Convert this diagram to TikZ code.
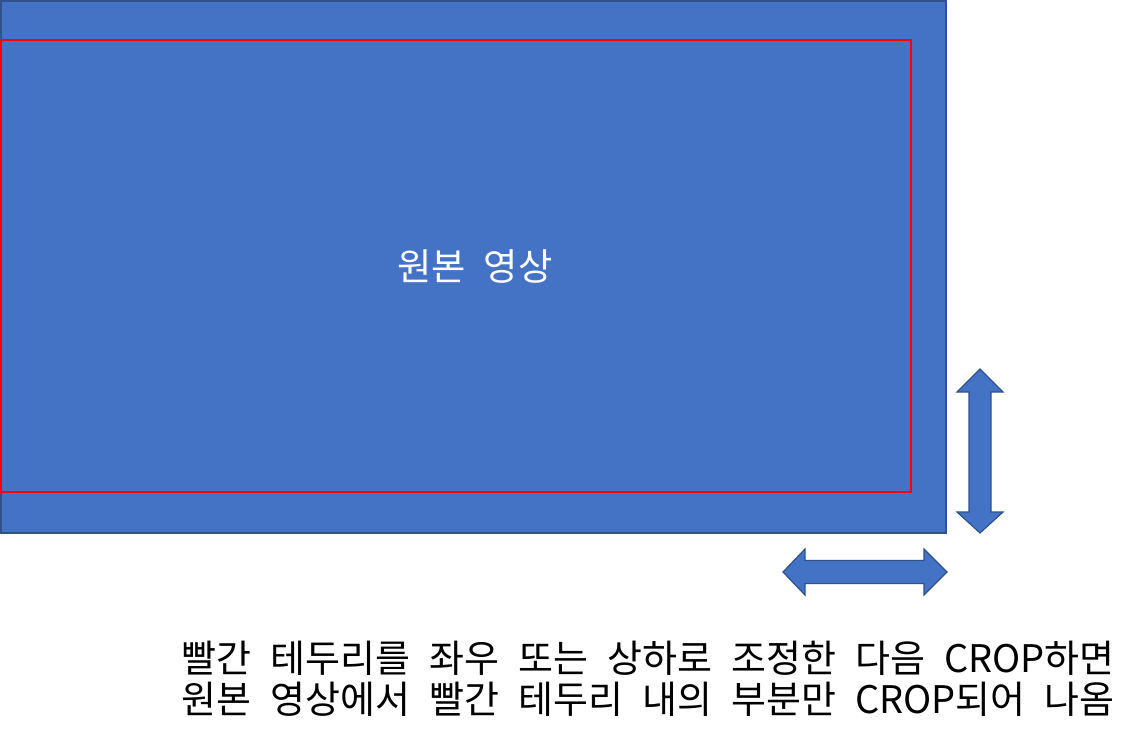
\documentclass[tikz,border=0pt]{standalone}
\usepackage{fontspec}
\newfontfamily\kor{Noto Sans CJK KR}
\newcommand\kortext{\kor\fontsize{28.5pt}{32pt}\selectfont\spaceskip=14.3pt\relax}
\newcommand\kortitel{\kor\fontsize{28pt}{32pt}\selectfont\spaceskip=13pt\relax}
\usepackage{tikz}
\usetikzlibrary{positioning}
\definecolor{bildblau}{HTML}{4472C4}
\definecolor{randblau}{HTML}{2F528F}
\definecolor{rahmenrot}{HTML}{FF0000}

\begin{document}
\begin{tikzpicture}[x=0.75pt, y=-0.75pt,
					bild/.style={fill=bildblau, draw=randblau, line width=1.5pt},
					rahmen/.style={draw=rahmenrot, line width=1.4pt},
					pfeil/.style={fill=bildblau, draw=randblau, line width=0.9pt, line join=miter},
					txt/.style={inner sep=0pt, font=\kortext}]
					%Bildbereich festlegen
					\useasboundingbox (0,0) rectangle (1143,746);
					%Originalbild
					\draw[bild] (0.7,0.7) rectangle (946,533);
					%roter Rahmen
					\draw[rahmen] (0.7,40) rectangle (911,492);
					\node[white, inner sep=0pt, font=\kortitel] (titel) at (475,266) {원본 영상};
					%Doppelpfeile
					\draw[pfeil] (980,369) -- (1003,392) -- (991,392) -- (991,512) -- (1003,512) -- (980,533)
						-- (957,512) -- (969,512) -- (969,392) -- (957,392) -- cycle;
					\draw[pfeil] (783,572) -- (805,549) -- (805,560.5) -- (924,560.5) -- (924,549) -- (947,572)
						-- (924,595) -- (924,583.5) -- (805,583.5) -- (805,595) -- cycle;
					%Beschriftung
					\node[txt, anchor=east] (zeile1) at (1115,658) {빨간 테두리를 좌우 또는 상하로 조정한 다음 CROP하면};
					\node[txt, anchor=east] (zeile2) at (1115,699) {원본 영상에서 빨간 테두리 내의 부분만 CROP되어 나옴};
				\end{tikzpicture}
\end{document}
